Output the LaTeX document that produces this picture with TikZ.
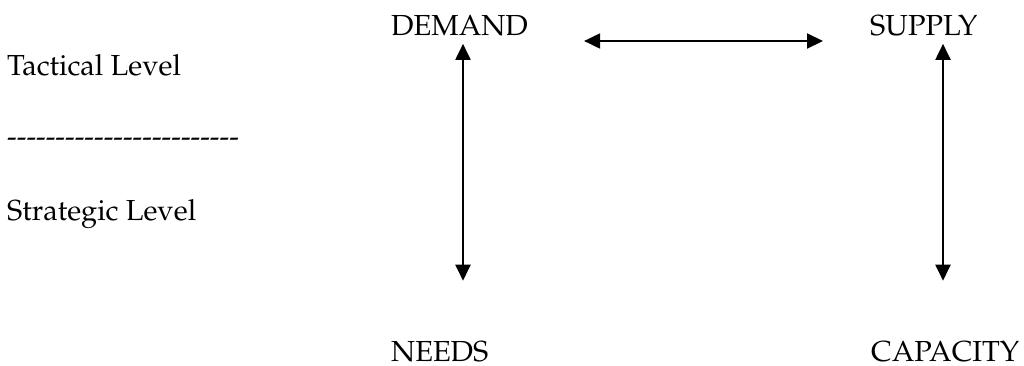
\documentclass[tikz,border=0pt]{standalone}
\usepackage[T1]{fontenc}
\renewcommand{\rmdefault}{ppl}
\usetikzlibrary{arrows.meta,calc}
\begin{document}
\begin{tikzpicture}[x=1pt,y=-1pt,
  lbl/.style={anchor=base west,inner sep=0pt,font=\fontsize{29}{35}\selectfont},
  biarrow/.style={line width=2pt,{Triangle[length=16pt,width=15pt]}-{Triangle[length=16pt,width=15pt]}}]
  \useasboundingbox (0,0) rectangle (1024,365);
  % level labels on the left
  \node[lbl] (tact) at (7,75) {Tactical Level};
  \node[lbl] (sep) at (7,146) {-{}-{}-{}-{}-{}-{}-{}-{}-{}-{}-{}-{}-{}-{}-{}-{}-{}-{}-{}-{}-{}-{}-{}-};
  \node[lbl] (strat) at (7,220) {Strategic Level};
  % the four concepts
  \node[lbl] (demand) at (391,35) {DEMAND};
  \node[lbl] (supply) at (870,35) {SUPPLY};
  \node[lbl] (needs) at (391,361) {NEEDS};
  \node[lbl] (capacity) at (871,361) {CAPACITY};
  % columns of the vertical links
  \coordinate (lcol) at (463,0);
  \coordinate (rcol) at (943,0);
  \coordinate (hrow) at (0,41);
  % links
  \draw[biarrow] ([xshift=56pt]demand.east |- hrow) -- ([xshift=-47pt]supply.west |- hrow);
  \draw[biarrow] ([yshift=-8pt]demand.south -| lcol) -- ([yshift=60pt]needs.north -| lcol);
  \draw[biarrow] ([yshift=-8pt]supply.south -| rcol) -- ([yshift=60pt]capacity.north -| rcol);
\end{tikzpicture}
\end{document}
